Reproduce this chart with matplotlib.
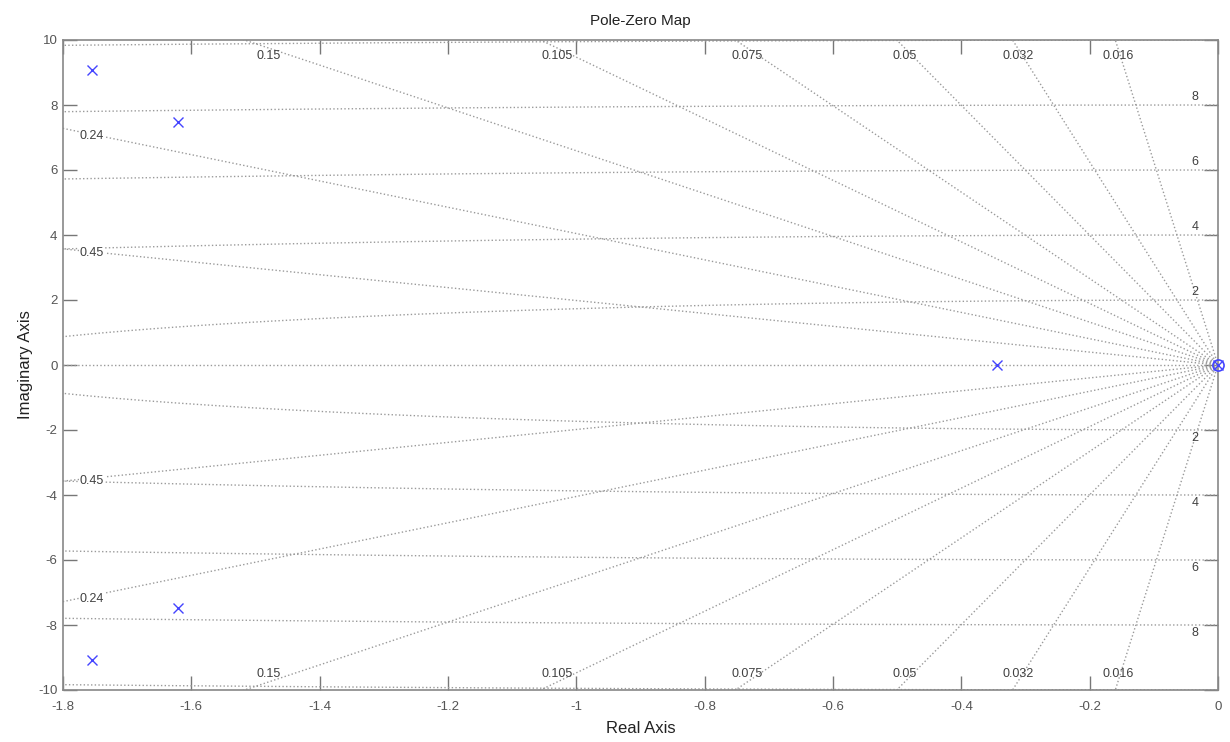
import numpy as np
import matplotlib
matplotlib.use("Agg")
import matplotlib.pyplot as plt

plt.rcParams['font.family'] = ['Liberation Sans', 'DejaVu Sans']
plt.rcParams['axes.unicode_minus'] = False

# Data
pole_re = [-1.755, -1.755, -1.621, -1.621, -0.344, 0.0]
pole_im = [9.07, -9.07, 7.47, -7.47, 0.0, 0.0]
zero_re = [0.0]
zero_im = [0.0]
zetas = [0.016, 0.032, 0.05, 0.075, 0.105, 0.15, 0.24, 0.45]
wns = [2, 4, 6, 8, 10]
xticks = [-1.8, -1.6, -1.4, -1.2, -1.0, -0.8, -0.6, -0.4, -0.2, 0]
yticks = [-10, -8, -6, -4, -2, 0, 2, 4, 6, 8, 10]
xlim = (-1.8, 0)
ylim = (-10, 10)

fig = plt.figure(figsize=(12.3, 7.42), dpi=100)
ax = fig.add_axes([63/1230, 1-690/742, (1218-63)/1230, (690-40)/742])

gcol = '#9a9a9a'
tcol = '#404040'
# damping lines
for z in zetas:
    s = np.sqrt(1 - z**2) / z
    r = np.linspace(0, 12, 400)
    x = -r * z
    y = r * np.sqrt(1 - z**2)
    ax.plot(x, y, ls=':', color=gcol, lw=1)
    ax.plot(x, -y, ls=':', color=gcol, lw=1)
    # label
    xt = -9.75 / s
    if xt > xlim[0] + 0.05:
        ax.text(xt, 9.5, f"{z:g}", ha='center', va='center', fontsize=9, color=tcol)
        ax.text(xt, -9.5, f"{z:g}", ha='center', va='center', fontsize=9, color=tcol)
    else:
        yt = 1.755 * s
        ax.text(-1.755, yt - 0.05, f"{z:g}", ha='center', va='center', fontsize=9, color=tcol,
                bbox=dict(facecolor='white', edgecolor='none', pad=0.5))
        ax.text(-1.755, -yt - 0.1, f"{z:g}", ha='center', va='center', fontsize=9, color=tcol,
                bbox=dict(facecolor='white', edgecolor='none', pad=0.5))
# real axis line (zeta = 1)
ax.plot([xlim[0], 0], [0, 0], ls=':', color=gcol, lw=1)
# wn circles
for w in wns:
    th = np.linspace(np.pi/2, 3*np.pi/2, 2000)
    ax.plot(w*np.cos(th), w*np.sin(th), ls=':', color=gcol, lw=1)
    if w < 10:
        ax.text(-0.036, w + 0.25, str(w), ha='center', va='center', fontsize=9, color=tcol)
        ax.text(-0.036, -w - 0.25, str(w), ha='center', va='center', fontsize=9, color=tcol)

ax.plot(pole_re, pole_im, 'x', color='#4444ff', ms=7, mew=1, clip_on=False, zorder=5)
ax.plot(zero_re, zero_im, 'o', mfc='none', mec='#4444ff', ms=8, mew=1.2, clip_on=False, zorder=5)

ax.set_xlim(*xlim)
ax.set_ylim(*ylim)
ax.set_xticks(xticks)
ax.set_xticklabels([f"{v:g}" for v in xticks])
ax.set_yticks(yticks)
ax.tick_params(direction='in', length=10, width=1, colors='#777777', labelcolor='#555555',
               labelsize=9.5, top=True, right=True)
ax.tick_params(axis='y', pad=4)
ax.tick_params(axis='x', pad=8)
for sp in ax.spines.values():
    sp.set_color('#888888')
    sp.set_linewidth(1.2)

ax.set_title('Pole-Zero Map', fontsize=11, color='#222222', pad=11)
ax.set_xlabel('Real Axis', fontsize=12, color='#222222', labelpad=6)
ax.set_ylabel('Imaginary Axis', fontsize=12, color='#222222', labelpad=4)

fig.savefig('out.png', dpi=100)
